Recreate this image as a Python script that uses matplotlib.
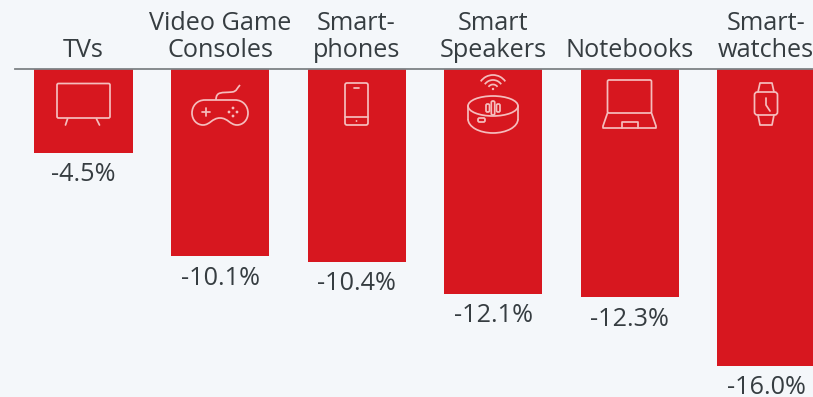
import matplotlib
matplotlib.use("Agg")
import matplotlib.pyplot as plt
from matplotlib.patches import Ellipse, Arc, Circle, FancyBboxPatch, PathPatch
from matplotlib.path import Path
from matplotlib.lines import Line2D
from matplotlib.transforms import Affine2D
import numpy as np

categories = ["TVs", "Video Game\nConsoles", "Smart-\nphones", "Smart\nSpeakers", "Notebooks", "Smart-\nwatches"]
changes = [-4.5, -10.1, -10.4, -12.1, -12.3, -16.0]
value_labels = ["-4.5%", "-10.1%", "-10.4%", "-12.1%", "-12.3%", "-16.0%"]

BG = "#f4f7fa"
RED = "#d7171f"
INK = "#363d41"
ICON = "#f5bdbd"

W, H = 813, 397
BASE_Y = 69
LEFT = 15
PX_PER_PCT = 18.56
PITCH = 136.5
FIRST_CENTER = 83.5
LW = 1.25

plt.rcParams["font.family"] = ["Open Sans", "DejaVu Sans"]
fig = plt.figure(figsize=(W / 100, H / 100), dpi=100, facecolor=BG)
ax = fig.add_axes([LEFT / W, 0, (W - LEFT) / W, (H - BASE_Y) / H], facecolor=BG)
ax.set_xlim((LEFT - FIRST_CENTER) / PITCH, (W - FIRST_CENTER) / PITCH)
ax.set_ylim(-(H - BASE_Y) / PX_PER_PCT, 0)

x = np.arange(len(categories))
ax.bar(x, changes, width=98 / PITCH, color=RED, linewidth=0, zorder=2)

for side in ["left", "right", "bottom"]:
    ax.spines[side].set_visible(False)
ax.spines["top"].set_color("#7d8285")
ax.spines["top"].set_linewidth(1.3)
ax.spines["top"].set_zorder(3)
ax.set_yticks([])
ax.set_xticks(x, categories)
ax.tick_params(axis="x", top=True, bottom=False, labeltop=True, labelbottom=False,
               length=0, pad=4.5, labelsize=18.2, labelcolor=INK)
for lab in ax.get_xticklabels():
    lab.set_linespacing(1.08)

for xi, v, text in zip(x, changes, value_labels):
    ax.annotate(text, (xi, v), xytext=(0, -20.4), textcoords="offset points",
                ha="center", va="baseline", fontsize=18.2, color=INK)


def icon_frame(i):
    # Local pixel frame: origin on the baseline at the bar centre, y pointing down.
    cx, cy = ax.transData.transform((x[i], 0))
    return Affine2D().scale(1, -1).translate(cx, cy)


def put(artist, frame):
    artist.set_transform(frame)
    artist.set_clip_on(False)
    artist.set_zorder(4)
    ax.add_artist(artist)


style = dict(edgecolor=ICON, facecolor="none", linewidth=LW)


def rounded(x0, y0, w, h, r, frame):
    put(FancyBboxPatch((x0, y0), w, h, boxstyle=f"round,pad=0,rounding_size={r}", **style), frame)


def stroke(xs, ys, frame):
    put(Line2D(xs, ys, color=ICON, linewidth=LW, solid_capstyle="round"), frame)


# Television
f = icon_frame(0)
rounded(-26.5, 14.5, 53, 34.5, 1.5, f)
stroke([-16, -18], [50, 56], f)
stroke([13, 16], [50, 56], f)

# Game controller: outline built from two round grips joined by an arch
f = icon_frame(1)
M, L, C = Path.MOVETO, Path.LINETO, Path.CURVE4
body = Path(
    [(-15, 31), (15, 31),
     (23, 31), (28, 37), (28, 44),
     (28, 51), (23, 56), (17, 56),
     (10, 56), (8, 49), (0, 49),
     (-8, 49), (-10, 56), (-17, 56),
     (-23, 56), (-28, 51), (-28, 44),
     (-28, 37), (-23, 31), (-15, 31)],
    [M, L, C, C, C, C, C, C, C, C, C, C, C, C, C, C, C, C, C, C],
)
put(PathPatch(body, **style), f)
stroke([-18, -10], [43, 43], f)
stroke([-14, -14], [39, 47], f)
for dx, dy in [(13, 39), (17, 43), (13, 47), (9, 43)]:
    put(Circle((dx, dy), 1.4, facecolor=ICON, edgecolor="none"), f)
cord = Path([(-4, 31), (-4, 22), (2, 24), (12, 23), (17, 22.5), (17, 19), (20, 16)],
            [M, C, C, C, C, C, C])
put(PathPatch(cord, **style), f)

# Smartphone
f = icon_frame(2)
rounded(-11.5, 14, 23, 42, 2, f)
stroke([-11.5, 11.5], [48, 48], f)
stroke([-2.5, 2.5], [19, 19], f)
put(Circle((0, 52), 0.9, facecolor=ICON, edgecolor="none"), f)

# Smart speaker
f = icon_frame(3)
put(Ellipse((0, 37), 50, 20, **style), f)
stroke([-25, -25], [37, 50], f)
stroke([25, 25], [37, 50], f)
put(Arc((0, 50), 50, 28, theta1=0, theta2=180, **style), f)
rounded(-15, 49, 7, 4, 1.5, f)
for r in (5.5, 10, 15):
    put(Arc((0, 21), 2 * r, 2 * r, theta1=215, theta2=325, **style), f)
put(Circle((0, 20), 1.2, facecolor=ICON, edgecolor="none"), f)
rounded(-7, 35, 3.5, 8, 1.4, f)
rounded(-1.7, 32, 3.4, 14, 1.5, f)
rounded(3.5, 35, 3.5, 8, 1.4, f)

# Notebook
f = icon_frame(4)
rounded(-22, 11, 44, 33, 1.5, f)
stroke([-22, -26.5, -26.5, 26.5, 26.5, 22], [44, 57, 59, 59, 57, 44], f)
stroke([-8, -8, 8, 8], [59, 53, 53, 59], f)

# Smartwatch
f = icon_frame(5)
rounded(-11.5, 23, 23, 23, 3, f)
stroke([-8, -6, 6, 8], [23, 14, 14, 23], f)
stroke([-8, -6, 6, 8], [46, 56, 56, 46], f)
stroke([0, 0, 4], [29, 36, 42], f)

fig.savefig("out.png", dpi=100, facecolor=BG)
